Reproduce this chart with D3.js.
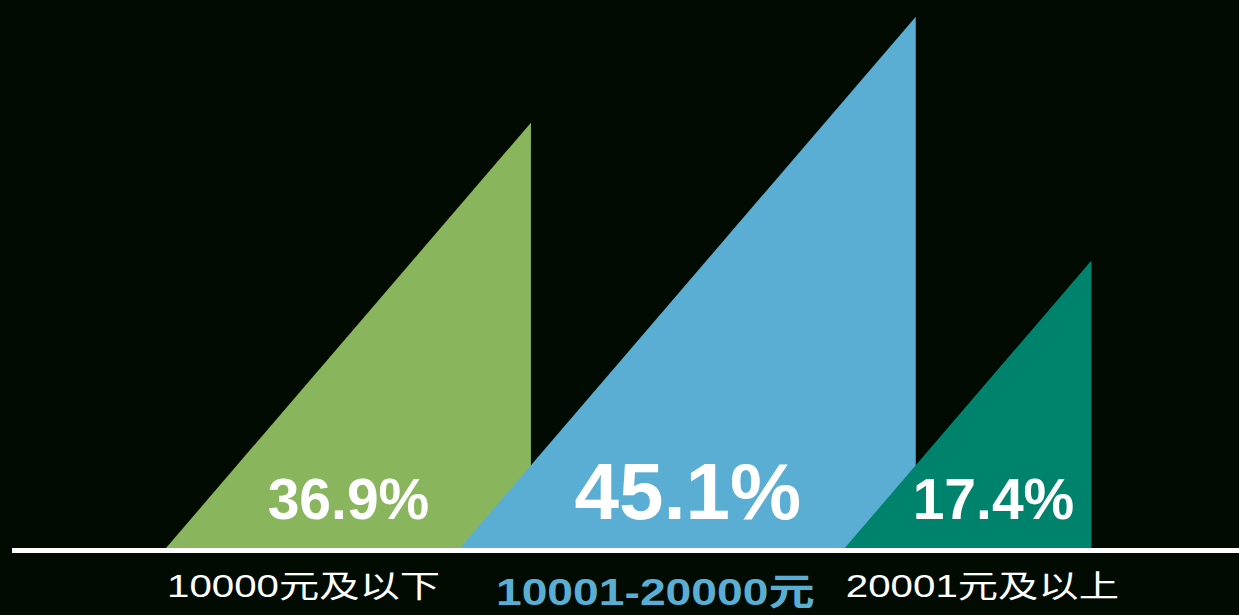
<!DOCTYPE html>
<html>
<head>
<meta charset="utf-8">
<script src="https://cdn.jsdelivr.net/npm/d3@7"></script>
<style>
  html, body { margin: 0; padding: 0; background: #010b02; overflow: hidden; }
  svg { display: block; }
</style>
</head>
<body>
<svg id="chart" width="1239" height="615"></svg>
<script>
// Monthly income brackets and their share of respondents
const categories = ["10000元及以下", "10001-20000元", "20001元及以上"];
const shares = [36.9, 45.1, 17.4];
const shareLabels = ["36.9%", "45.1%", "17.4%"];
const colors = ["#89b55d", "#5baed3", "#00836d"];

const W = 1239, H = 615;
const baseY = 548;          // ground line where every triangle sits
const startX = 166;         // left corner of the first triangle
const overlap = 71;         // how far each triangle slides under its neighbour
const runPerRise = 0.858;   // all triangles share the same slope

const svg = d3.select("#chart");
svg.append("rect").attr("width", W).attr("height", H).attr("fill", "#010b02");

// Apex height from the share value
const y = d3.scalePow().exponent(2.5)
  .domain([0, d3.max(shares)])
  .range([baseY - 262.6, baseY - 531.3]);

// Lay out the triangles left to right, each overlapping the previous one
const items = [];
let left = startX;
shares.forEach((v, i) => {
  const top = y(v);
  const w = (baseY - top) * runPerRise;
  items.push({ i, v, label: shareLabels[i], cat: categories[i], color: colors[i],
               x0: left, x1: left + w, top });
  left = left + w - overlap;
});

const edgeX = (d, yy) => d.x0 + (baseY - yy) * runPerRise;

svg.append("g").selectAll("path")
  .data(items)
  .join("path")
  .attr("d", d => `M${d.x0},${baseY}L${d.x1},${d.top}L${d.x1},${baseY}Z`)
  .attr("fill", d => d.color);

// Ground line
svg.append("rect")
  .attr("x", 12).attr("y", baseY)
  .attr("width", W - 12).attr("height", 5)
  .attr("fill", "#ffffff");

// Percentage labels inside the triangles
const maxShare = d3.max(shares);
const labelBase = 519;
const pct = svg.append("g").selectAll("text")
  .data(items)
  .join("text")
  .attr("y", labelBase)
  .attr("text-anchor", "middle")
  .attr("fill", "#ffffff")
  .attr("font-family", "'Liberation Sans', Arial, sans-serif")
  .attr("font-weight", "bold")
  .attr("font-size", d => d.v === maxShare ? 80 : 57)
  .text(d => d.label);

pct.each(function (d) {
  const fs = d.v === maxShare ? 80 : 57;
  const tw = this.getComputedTextLength();
  const capTop = labelBase - 0.716 * fs;
  const mid = (d.x0 + d.x1) / 2;
  const minX = edgeX(d, capTop) + tw / 2 + 8;
  const maxX = d.x1 - tw / 2 - 8;
  d3.select(this).attr("x", Math.min(Math.max(mid, minX), maxX));
});

// Bracket names under the ground line
svg.append("g").selectAll("text")
  .data(items)
  .join("text")
  .attr("transform", d => d.v === maxShare
    ? `translate(${d.x0 + 36},605) scale(1.25,1)`
    : `translate(${d.x0 + 1},597) scale(1.3,1)`)
  .attr("fill", d => d.v === maxShare ? d.color : "#ffffff")
  .attr("font-family", "'Liberation Sans', Arial, 'Noto Sans CJK SC', sans-serif")
  .attr("font-weight", d => d.v === maxShare ? "bold" : "normal")
  .attr("font-size", d => d.v === maxShare ? 37 : 31)
  .text(d => d.cat);
</script>
</body>
</html>
